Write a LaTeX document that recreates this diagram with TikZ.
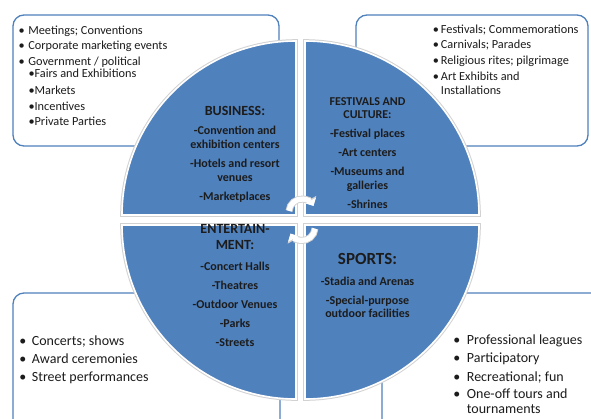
\documentclass[tikz,border=0pt]{standalone}
\usepackage{fontspec}
\setmainfont{Carlito}
\usetikzlibrary{arrows.meta}
\definecolor{quadblue}{HTML}{4F81BD}
\definecolor{edgegray}{HTML}{D2D2D2}
\definecolor{inktext}{HTML}{1C1C1C}
\newcommand{\bulA}{\makebox[13pt][c]{•}}
\newcommand{\bulB}{\makebox[10pt][c]{•}}
\newcommand{\bulC}{\makebox[18pt][c]{•}}
\newcommand{\bulD}{\makebox[20pt][c]{•}}
\begin{document}
\begin{tikzpicture}[x=1pt,y=1pt,
  panel/.style={draw=quadblue, line width=1.3pt, fill=white, rounded corners=11pt, inner sep=0pt},
  smallitem/.style={anchor=base west, inner sep=0pt, text=inktext, font=\fontsize{12.3}{14}\selectfont},
  bigitem/.style={anchor=base west, inner sep=0pt, text=inktext, font=\fontsize{14}{16}\selectfont},
  qline/.style={anchor=base, inner sep=0pt, text=inktext, font=\bfseries\fontsize{12}{14}\selectfont},
  qtitle/.style={anchor=base, inner sep=0pt, text=inktext, font=\bfseries\fontsize{14}{16}\selectfont},
  quadshade/.style={draw=edgegray, line width=3.6pt},
  quadrant/.style={fill=quadblue, draw=white, line width=1.6pt},
  cycshade/.style={draw=edgegray, line width=7pt, -{Triangle[width=14pt,length=7.5pt]}},
  cycarrow/.style={draw=white, line width=5.2pt, -{Triangle[width=11.5pt,length=6pt]}}
]
\clip (0,0) rectangle (591,-418);
\fill[white] (0,0) rectangle (591,-418);

% description panels behind the circle
\node[panel, minimum width=266pt, minimum height=131pt] (boxTL) at (146,-80.5) {};
\node[panel, minimum width=232pt, minimum height=131pt] (boxTR) at (472,-80.5) {};
\node[panel, minimum width=267pt, minimum height=140pt] (boxBL) at (146.5,-363) {};
\node[panel, minimum width=228pt, minimum height=140pt] (boxBR) at (496,-363) {};

% four quarter discs
\path[quadshade] (296,-215) -- ++(-174,0) arc[start angle=180,end angle=90,radius=174] -- cycle;
\path[quadshade] (305,-215) -- ++(0,174) arc[start angle=90,end angle=0,radius=174] -- cycle;
\path[quadshade] (296,-225) -- ++(0,-174) arc[start angle=270,end angle=180,radius=174] -- cycle;
\path[quadshade] (305,-225) -- ++(174,0) arc[start angle=0,end angle=-90,radius=174] -- cycle;
\path[quadrant] (296,-215) -- ++(-174,0) arc[start angle=180,end angle=90,radius=174] -- cycle;
\path[quadrant] (305,-215) -- ++(0,174) arc[start angle=90,end angle=0,radius=174] -- cycle;
\path[quadrant] (296,-225) -- ++(0,-174) arc[start angle=270,end angle=180,radius=174] -- cycle;
\path[quadrant] (305,-225) -- ++(174,0) arc[start angle=0,end angle=-90,radius=174] -- cycle;

% circular arrows in the middle
\coordinate (cycU) at (302,-212);
\coordinate (cycL) at (302,-227.5);
\draw[cycshade] (cycU) ++(175:13) arc[start angle=175,end angle=28,radius=13];
\draw[cycarrow] (cycU) ++(175:13) arc[start angle=175,end angle=28,radius=13];
\draw[cycshade] (cycL) ++(-5:13) arc[start angle=-5,end angle=-152,radius=13];
\draw[cycarrow] (cycL) ++(-5:13) arc[start angle=-5,end angle=-152,radius=13];

% top-left panel
\node[smallitem] (tl1) at (15.1,-34.7) {\bulA Meetings; Conventions};
\node[smallitem] (tl2) at (15.1,-49) {\bulA Corporate marketing events};
\node[smallitem] (tl3) at (15.1,-65) {\bulA Government / political};
\node[smallitem] (tl4) at (28.3,-77.5) {•Fairs and Exhibitions};
\node[smallitem] (tl5) at (28.3,-94) {•Markets};
\node[smallitem] (tl6) at (28.3,-110) {•Incentives};
\node[smallitem] (tl7) at (28.3,-125.7) {•Private Parties};

% top-right panel
\node[smallitem] (tr1) at (430.7,-33) {\bulB Festivals; Commemorations};
\node[smallitem] (tr2) at (430.7,-48.3) {\bulB Carnivals; Parades};
\node[smallitem] (tr3) at (430.7,-64.7) {\bulB Religious rites; pilgrimage};
\node[smallitem] (tr4) at (430.7,-80) {\bulB Art Exhibits and};
\node[smallitem] (tr5) at (440.7,-94) {Installations};

% bottom-left panel
\node[bigitem] (bl1) at (13.7,-345.2) {\bulC Concerts; shows};
\node[bigitem] (bl2) at (13.7,-363.5) {\bulC Award ceremonies};
\node[bigitem] (bl3) at (13.7,-381.2) {\bulC Street performances};

% bottom-right panel
\node[bigitem] (br1) at (446.7,-344.5) {\bulD Professional leagues};
\node[bigitem] (br2) at (446.7,-362.8) {\bulD Participatory};
\node[bigitem] (br3) at (446.7,-381.2) {\bulD Recreational; fun};
\node[bigitem] (br4) at (446.7,-398.8) {\bulD One-off tours and};
\node[bigitem] (br5) at (466.7,-413.5) {tournaments};

% business quadrant
\node[qtitle] (bus0) at (235,-115.2) {BUSINESS:};
\node[qline] (bus1) at (235,-134.7) {-Convention and};
\node[qline] (bus2) at (235,-148) {exhibition centers};
\node[qline] (bus3) at (235,-167.3) {-Hotels and resort};
\node[qline] (bus4) at (235,-181.3) {venues};
\node[qline] (bus5) at (235,-200) {-Marketplaces};

% festivals quadrant
\node[qline] (fes0) at (367.5,-105.2) {FESTIVALS AND};
\node[qline] (fes1) at (367.5,-118.5) {CULTURE:};
\node[qline] (fes2) at (367.5,-137.3) {-Festival places};
\node[qline] (fes3) at (367.5,-156.7) {-Art centers};
\node[qline] (fes4) at (367.5,-175) {-Museums and};
\node[qline] (fes5) at (367.5,-189.3) {galleries};
\node[qline] (fes6) at (367.5,-208) {-Shrines};

% entertainment quadrant
\node[qtitle] (ent0) at (235,-233.8) {ENTERTAIN-};
\node[qtitle] (ent1) at (235,-249.5) {MENT:};
\node[qline] (ent2) at (235,-270) {-Concert Halls};
\node[qline] (ent3) at (235,-289.3) {-Theatres};
\node[qline] (ent4) at (235,-308.3) {-Outdoor Venues};
\node[qline] (ent5) at (235,-327.3) {-Parks};
\node[qline] (ent6) at (235,-346.3) {-Streets};

% sports quadrant
\node[qtitle, font=\bfseries\fontsize{17}{19}\selectfont] (spo0) at (367.5,-264.8) {SPORTS:};
\node[qline] (spo1) at (367.5,-285) {-Stadia and Arenas};
\node[qline] (spo2) at (367.5,-304) {-Special-purpose};
\node[qline] (spo3) at (367.5,-317.7) {outdoor facilities};
\end{tikzpicture}
\end{document}
